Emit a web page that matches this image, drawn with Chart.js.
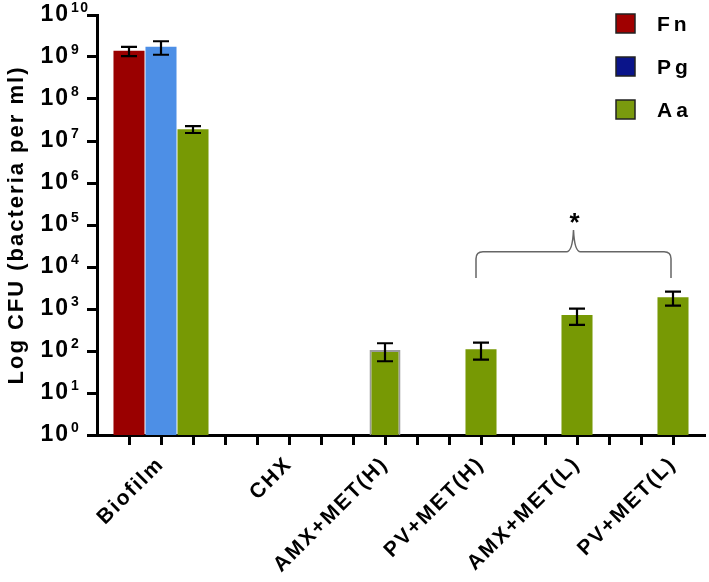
<!DOCTYPE html>
<html>
<head>
<meta charset="utf-8">
<script src="https://cdn.jsdelivr.net/npm/chart.js@4.4.0/dist/chart.umd.min.js"></script>
<style>
  html, body { margin: 0; padding: 0; background: #fff; }
  #wrap { position: relative; width: 709px; height: 582px; }
</style>
</head>
<body>
<div id="wrap"><canvas id="cfu-chart"></canvas></div>
<script>
// ── DATA ──────────────────────────────────────────────────────────────────────
var groups = ['Biofilm', 'CHX', 'AMX+MET(H)', 'PV+MET(H)', 'AMX+MET(L)', 'PV+MET(L)'];
var seriesNames = ['Fn', 'Pg', 'Aa'];

var fnMean = [1.4e9, null, null, null, null, null];
var fnErr  = [0.35e9, null, null, null, null, null];
var pgMean = [1.75e9, null, null, null, null, null];
var pgErr  = [0.62e9, null, null, null, null, null];
var aaMean = [1.9e7, null, 105, 110, 720, 1900];
var aaErr  = [0.35e7, null, 48, 48, 300, 700];

var yTicks = [1, 10, 1e2, 1e3, 1e4, 1e5, 1e6, 1e7, 1e8, 1e9, 1e10];
var yTitle = 'Log CFU (bacteria per ml)';

// ── BUILD SLOTS (one slot per bar, one empty slot at each end) ───────────────
var nSeries = seriesNames.length;
var nSlots = groups.length * nSeries + 2;
function slotOf(g, s) { return 1 + g * nSeries + s; }

var slotLabels = [];
for (var i = 0; i < nSlots; i++) slotLabels.push('');
groups.forEach(function(name, g) {
  // first group label sits under its middle bar, the others under the Aa bar
  slotLabels[g === 0 ? slotOf(g, 1) : slotOf(g, 2)] = name;
});

function spread(values, s) {
  var out = [];
  for (var i = 0; i < nSlots; i++) out.push(null);
  values.forEach(function(v, g) { out[slotOf(g, s)] = v; });
  return out;
}

var means = [fnMean, pgMean, aaMean];
var errs = [fnErr, pgErr, aaErr];
var barColors = ['#9a0000', '#4d8fe6', '#779904'];
var legendColors = ['#a00000', '#0a148a', '#7a9a0e'];

var datasets = seriesNames.map(function(name, s) {
  return {
    label: name,
    data: spread(means[s], s),
    err: spread(errs[s], s),
    legendColor: legendColors[s],
    backgroundColor: barColors[s],
    borderColor: '#9a9a9a',
    borderWidth: function(c) { return (s === 2 && c.dataIndex === slotOf(2, 2)) ? 2 : 0; },
    borderSkipped: 'bottom',
    grouped: false,
    barPercentage: 0.97,
    categoryPercentage: 1
  };
});

// ── PLUGINS ──────────────────────────────────────────────────────────────────
var FONT = "'Liberation Sans', Arial, sans-serif";
var SPACING = '2px';

var spacingPlugin = {
  id: 'spacing',
  beforeUpdate: function(chart) { chart.ctx.letterSpacing = SPACING; },
  beforeDraw: function(chart) { chart.ctx.letterSpacing = SPACING; }
};

var errorBarPlugin = {
  id: 'errorBars',
  afterDatasetsDraw: function(chart) {
    var ctx = chart.ctx, y = chart.scales.y;
    ctx.save();
    ctx.strokeStyle = '#000';
    ctx.lineWidth = 2.2;
    chart.data.datasets.forEach(function(ds, di) {
      var meta = chart.getDatasetMeta(di);
      meta.data.forEach(function(bar, j) {
        var v = ds.data[j], e = ds.err[j];
        if (v == null || e == null) return;
        var yt = y.getPixelForValue(v + e), yb = y.getPixelForValue(Math.max(v - e, 1));
        ctx.beginPath();
        ctx.moveTo(bar.x, yt); ctx.lineTo(bar.x, yb);
        ctx.moveTo(bar.x - 8, yt); ctx.lineTo(bar.x + 8, yt);
        ctx.moveTo(bar.x - 8, yb); ctx.lineTo(bar.x + 8, yb);
        ctx.stroke();
      });
    });
    ctx.restore();
  }
};

var exponentPlugin = {
  id: 'exponents',
  afterDraw: function(chart) {
    var ctx = chart.ctx, y = chart.scales.y;
    var xRight = y.right - y.options.grid.tickLength - y.options.ticks.padding;
    ctx.save();
    ctx.letterSpacing = '1.5px';
    ctx.fillStyle = '#000';
    ctx.font = 'bold 14px ' + FONT;
    ctx.textAlign = 'left';
    ctx.textBaseline = 'middle';
    y.ticks.forEach(function(t) {
      var p = y.getPixelForValue(t.value);
      ctx.fillText(String(Math.round(Math.log10(t.value))), xRight + 1, p - 7);
    });
    ctx.restore();
  }
};

var legendPlugin = {
  id: 'sideLegend',
  afterDraw: function(chart) {
    var ctx = chart.ctx;
    ctx.save();
    ctx.letterSpacing = '4px';
    ctx.font = 'bold 21px ' + FONT;
    ctx.textBaseline = 'middle';
    ctx.textAlign = 'left';
    chart.data.datasets.forEach(function(ds, i) {
      var cy = 24 + i * 43;
      ctx.fillStyle = ds.legendColor;
      ctx.fillRect(616, cy - 10, 19, 19);
      ctx.strokeStyle = '#222';
      ctx.lineWidth = 1.5;
      ctx.strokeRect(616, cy - 10, 19, 19);
      ctx.fillStyle = '#000';
      ctx.fillText(ds.label, 657, cy + 1);
    });
    ctx.restore();
  }
};

var bracketPlugin = {
  id: 'bracket',
  afterDraw: function(chart) {
    var ctx = chart.ctx, x = chart.scales.x, y = chart.scales.y;
    var xL = x.getPixelForValue(slotOf(3, 2)) - 5;
    var xR = x.getPixelForValue(slotOf(5, 2)) - 2;
    var xM = (xL + xR) / 2;
    var yEnd = y.getPixelForValue(5.5e3);
    var yLine = y.getPixelForValue(2.3e4);
    var yPeak = y.getPixelForValue(7.6e4);
    ctx.save();
    ctx.strokeStyle = '#666';
    ctx.lineWidth = 1.5;
    ctx.beginPath();
    ctx.moveTo(xL, yEnd);
    ctx.lineTo(xL, yLine + 7);
    ctx.quadraticCurveTo(xL, yLine, xL + 7, yLine);
    ctx.lineTo(xM - 7, yLine);
    ctx.quadraticCurveTo(xM - 1, yLine, xM, yPeak);
    ctx.quadraticCurveTo(xM + 1, yLine, xM + 7, yLine);
    ctx.lineTo(xR - 7, yLine);
    ctx.quadraticCurveTo(xR, yLine, xR, yLine + 7);
    ctx.lineTo(xR, yEnd);
    ctx.stroke();
    ctx.fillStyle = '#000';
    ctx.font = 'bold 26px ' + FONT;
    ctx.textAlign = 'center';
    ctx.textBaseline = 'middle';
    ctx.fillText('*', xM + 2, y.getPixelForValue(1.3e5) + 4);
    ctx.restore();
  }
};

// ── CHART ────────────────────────────────────────────────────────────────────
new Chart(document.getElementById('cfu-chart'), {
  type: 'bar',
  data: { labels: slotLabels, datasets: datasets },
  plugins: [spacingPlugin, errorBarPlugin, exponentPlugin, legendPlugin, bracketPlugin],
  options: {
    responsive: true,
    maintainAspectRatio: false,
    animation: false,
    layout: { padding: { top: 15, right: 4, left: 0, bottom: 0 } },
    plugins: { legend: { display: false }, tooltip: { enabled: false } },
    scales: {
      x: {
        type: 'category',
        offset: false,
        afterFit: function(scale) {
          scale.height = 147;
          scale.paddingLeft = 0;
          scale.paddingRight = 0;
        },
        grid: {
          offset: false,
          drawOnChartArea: false,
          tickLength: 10,
          tickWidth: 3,
          tickColor: function(c) { return (c.index === 0 || c.index === nSlots - 1) ? 'rgba(0,0,0,0)' : '#000'; }
        },
        border: { color: '#000', width: 3 },
        ticks: {
          autoSkip: false,
          minRotation: 45,
          maxRotation: 45,
          padding: 7,
          color: '#000',
          font: { family: FONT, size: 21, weight: 'bold' }
        }
      },
      y: {
        type: 'logarithmic',
        min: yTicks[0],
        max: yTicks[yTicks.length - 1],
        afterFit: function(scale) {
          scale.width = 97;
          scale.paddingTop = 0;
          scale.paddingBottom = 0;
        },
        afterBuildTicks: function(scale) {
          scale.ticks = yTicks.map(function(v) { return { value: v, major: true }; });
        },
        grid: { drawOnChartArea: false, tickLength: 10, tickWidth: 3, tickColor: '#000' },
        border: { color: '#000', width: 3 },
        ticks: {
          padding: 17,
          color: '#000',
          font: { family: FONT, size: 23, weight: 'bold' },
          callback: function() { return '10'; }
        },
        title: {
          display: true,
          text: yTitle,
          color: '#000',
          padding: { top: 4, bottom: 0 },
          font: { family: FONT, size: 22, weight: 'bold' }
        }
      }
    }
  }
});
</script>
</body>
</html>
